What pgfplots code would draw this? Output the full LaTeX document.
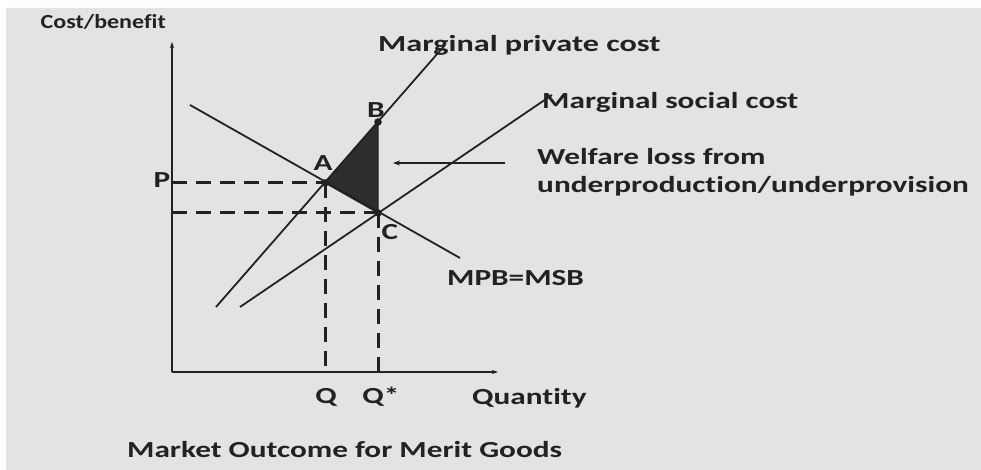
\documentclass[border=0pt]{standalone}
\usepackage{pgfplots}
\pgfplotsset{compat=1.18}
\usepackage{graphicx}
\usepackage{fontspec}
\setmainfont{Carlito}[Ligatures=NoCommon]
\usetikzlibrary{arrows.meta}
\definecolor{bg}{HTML}{E3E3E3}
\definecolor{ink}{HTML}{222222}
\newcommand{\T}[1]{\scalebox{1.36}[1]{\fontsize{23}{27}\selectfont\bfseries\color{ink}#1}}
\newcommand{\Ts}[1]{\scalebox{1.2}[1]{\fontsize{20}{24}\selectfont\bfseries\color{ink}#1}}
\begin{document}
\begin{tikzpicture}
\begin{axis}[width=981pt,height=470pt,scale only axis,
  xmin=0,xmax=981,ymin=0,ymax=470,hide axis,ticks=none,clip=false]
% background
\addplot[fill=bg,draw=none] coordinates {(6,0)(981,0)(981,462)(6,462)} \closedcycle;
% triangle
\addplot[fill=ink!95,draw=ink,line width=1pt] coordinates {(325,287)(378,348)(378,257)(325,287)};
% axes
\addplot[ink,line width=1.8pt,-{Stealth[length=6pt,width=4pt]}] coordinates {(172,98)(172,428)};
\addplot[ink,line width=1.8pt,-{Stealth[length=6pt,width=4pt]}] coordinates {(172,98)(498,98)};
% dashed guides
\addplot[ink,line width=3pt,dash pattern=on 15pt off 9pt] coordinates {(172,287)(325,287)};
\addplot[ink,line width=3pt,dash pattern=on 15pt off 9pt] coordinates {(172,257)(378,257)};
\addplot[ink,line width=3pt,dash pattern=on 15pt off 9pt] coordinates {(325,287)(325,98)};
\addplot[ink,line width=3pt,dash pattern=on 15pt off 9pt] coordinates {(378,257)(378,98)};
% curves
\addplot[ink,line width=1.8pt] coordinates {(190,365)(460,212)}; % MPB=MSB
\addplot[ink,line width=1.8pt] coordinates {(216,163)(445,425)}; % MPC
\addplot[ink,line width=1.8pt] coordinates {(240,163)(552,375)}; % MSC
% arrow
\addplot[ink,line width=1.8pt,-{Stealth[length=7pt,width=5pt]}] coordinates {(505,307)(393,307)};
% points
\addplot[only marks,mark=*,mark size=3.5pt,ink] coordinates {(325,287)(378,348)(378,257)};
% labels
\node[inner sep=0pt,anchor=east] at (axis cs:166,448) {\Ts{Cost/benefit}};
\node[inner sep=0pt,anchor=west] at (axis cs:378,425) {\scalebox{1.03}[1]{\T{Marginal private cost}}};
\node[inner sep=0pt,anchor=west] at (axis cs:542,368) {\T{Marginal social cost}};
\node[inner sep=0pt,anchor=west] at (axis cs:537,313) {\T{Welfare loss from}};
\node[inner sep=0pt,anchor=west] at (axis cs:537,284) {\T{underproduction/underprovision}};
\node[inner sep=0pt,anchor=west] at (axis cs:447,192) {\T{MPB=MSB}};
\node[inner sep=0pt] at (axis cs:326,73) {\T{Q}};
\node[inner sep=0pt] at (axis cs:381,73) {\T{Q*}};
\node[inner sep=0pt,anchor=west] at (axis cs:472,72) {\T{Quantity}};
\node[inner sep=0pt,anchor=west] at (axis cs:127,20) {\T{Market Outcome for Merit Goods}};
\node[inner sep=0pt] at (axis cs:162,290) {\T{P}};
\node[inner sep=0pt] at (axis cs:323,307) {\T{A}};
\node[inner sep=0pt] at (axis cs:376,360) {\T{B}};
\node[inner sep=0pt] at (axis cs:390,238) {\T{C}};
\end{axis}
\pgfresetboundingbox
\useasboundingbox (0,0) rectangle (981pt,470pt);
\end{tikzpicture}
\end{document}
